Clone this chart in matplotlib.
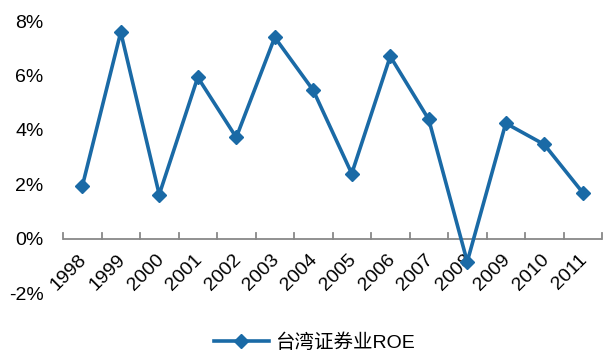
import matplotlib
matplotlib.use("Agg")
import matplotlib.pyplot as plt
import numpy as np

plt.rcParams['font.family'] = ['Liberation Sans', 'Noto Sans CJK SC', 'DejaVu Sans']

years = ["1998", "1999", "2000", "2001", "2002", "2003", "2004",
         "2005", "2006", "2007", "2008", "2009", "2010", "2011"]
roe = [1.92, 7.59, 1.62, 5.93, 3.72, 7.40, 5.45,
       2.39, 6.70, 4.38, -0.85, 4.24, 3.46, 1.69]
series_name = "台湾证券业ROE"
yticks = [-2, 0, 2, 4, 6, 8]

color = "#1A6AA6"
W, H = 603, 356
fig = plt.figure(figsize=(W / 100, H / 100), dpi=100)
ax = fig.add_axes([63 / W, (H - 293) / H, (602 - 63) / W, (293 - 21) / H])

x = np.arange(len(years))
ax.plot(x, roe, color=color, lw=2.6, marker="D", ms=7, mec=color, mfc=color,
        label=series_name, clip_on=False, zorder=5)

ax.set_xlim(-0.5, len(years) - 0.5)
ax.set_ylim(-2, 8)
ax.set_yticks(yticks)
ax.set_yticklabels([f"{v}%" for v in yticks], fontsize=14)
ax.tick_params(axis="y", length=0, pad=14)

for s in ["top", "right", "left", "bottom"]:
    ax.spines[s].set_visible(False)

# category axis drawn at zero with tick marks between categories
ax.axhline(0, color="#888888", lw=1.3, zorder=2)
for b in np.arange(-0.5, len(years)):
    ax.plot([b, b], [0, 0.2], color="#888888", lw=1.3, zorder=2, clip_on=False)
ax.set_xticks([])
for xi, lab in zip(x, years):
    ax.annotate(lab, xy=(xi, 0), xytext=(-3, -9), textcoords="offset points",
                rotation=45, ha="right", va="top", fontsize=14,
                rotation_mode="anchor", zorder=3)

leg = fig.legend(loc="center", bbox_to_anchor=(314 / W, 1 - 343 / H), frameon=False,
                 fontsize=14, handlelength=2.85, handletextpad=0.3)

fig.savefig("out.png", dpi=100)
